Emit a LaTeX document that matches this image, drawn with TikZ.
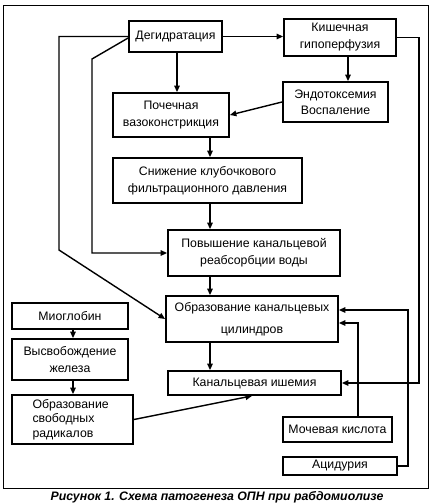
\documentclass[tikz,border=0pt]{standalone}
\usepackage{fontspec}
\setmainfont{Liberation Sans}
\usetikzlibrary{arrows.meta}
\begin{document}
\begin{tikzpicture}[x=1pt,y=-1pt,
  box/.style={draw=black, line width=1.8pt, inner sep=0pt, align=center,
    font=\fontsize{12.3}{17}\selectfont},
  conn/.style={line width=1.4pt, -{Triangle[length=6.5pt,width=5.5pt]}}]
\useasboundingbox (0,0) rectangle (435,504);
\draw[line width=0.8pt] (3,5) rectangle (428,488);
\node[box, minimum width=93pt, minimum height=31pt] (deg) at (175.5,36.5) {Дегидратация};
\node[box, minimum width=112pt, minimum height=37pt] (kish) at (340,37.5) {Кишечная\\гипоперфузия};
\node[box, minimum width=105pt, minimum height=40pt, font=\fontsize{12.3}{16}\selectfont] (endo) at (335.5,102) {Эндотоксемия\\Воспаление};
\node[box, minimum width=116pt, minimum height=44pt] (poch) at (171,115) {Почечная\\вазоконстрикция};
\node[box, minimum width=189pt, minimum height=45pt] (snizh) at (207.5,180.5) {Снижение клубочкового\\фильтрационного давления};
\node[box, minimum width=172pt, minimum height=46pt] (povysh) at (254,253) {Повышение канальцевой\\реабсорбции воды};
\node[box, minimum width=172pt, minimum height=46pt, font=\fontsize{12.3}{22}\selectfont] (obraz) at (252,319) {Образование канальцевых\\цилиндров};
\node[box, minimum width=173pt, minimum height=24pt] (ishem) at (254.5,383) {Канальцевая ишемия};
\node[box, minimum width=116pt, minimum height=26pt] (miog) at (70,316) {Миоглобин};
\node[box, minimum width=116pt, minimum height=41pt] (vysv) at (70,359.5) {Высвобождение\\железа};
\node[box, minimum width=121pt, minimum height=49pt, text width=80pt, align=left, font=\fontsize{12.3}{14.5}\selectfont] (svob) at (72.5,419.5) {Образование\\свободных\\радикалов};
\node[box, minimum width=109pt, minimum height=25pt] (moch) at (337.5,429.5) {Мочевая кислота};
\node[box, minimum width=114pt, minimum height=18pt] (acid) at (340,466) {Ацидурия};
\node[font=\fontsize{12.3}{14}\selectfont\bfseries\itshape] (cap) at (217,497) {Рисунок 1. Схема патогенеза ОПН при рабдомиолизе};
\coordinate (cx) at (210,0);
\coordinate (L1) at (59,250);
\coordinate (L2) at (92,59);
\coordinate (R1) at (419,200);
\coordinate (R2) at (408,400);
\draw[conn] (deg.east) -- (deg.east -| kish.west);
\draw[conn] ([xshift=1.5pt]deg.south) -- ([xshift=1.5pt]deg.south |- poch.north);
\draw[conn] ([xshift=8pt]kish.south) -- ([xshift=8pt]kish.south |- endo.north);
\draw[conn] (endo.west) -- (poch.east);
\draw[conn] (poch.south -| cx) -- (snizh.north -| cx);
\draw[conn] (snizh.south -| cx) -- (povysh.north -| cx);
\draw[conn] (povysh.south -| cx) -- (obraz.north -| cx);
\draw[conn] (obraz.south -| cx) -- (ishem.north -| cx);
\draw[conn] (deg.west) -| (L1) -- (obraz.west);
\draw[conn] ([yshift=-1.5pt]deg.west) -- (L2) -- (L2 |- povysh.west) -- (povysh.west);
\draw[conn] (kish.east) -| (R1) |- (ishem.east);
\draw[conn] ([xshift=20.5pt]moch.north) |- ([yshift=-4pt]obraz.east);
\draw[conn] (acid.east) -| (R2) |- ([yshift=9pt]obraz.east);
\draw[conn] (svob.east) -- ([xshift=-2.5pt]ishem.south);
\draw[conn] ([xshift=3pt]miog.south) -- ([xshift=3pt]miog.south |- vysv.north);
\draw[conn] ([xshift=3pt]vysv.south) -- ([xshift=3pt]vysv.south |- svob.north);
\end{tikzpicture}
\end{document}
